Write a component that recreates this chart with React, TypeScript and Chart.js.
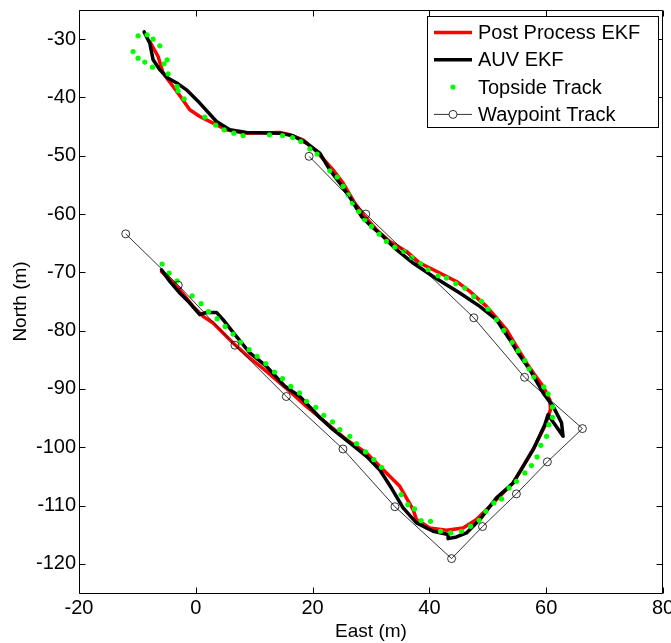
import React, { useEffect, useRef } from "react";
import { Chart, registerables } from "chart.js";

Chart.register(...registerables);

const FONT = "'Liberation Sans', Arial, Helvetica, sans-serif";

// Tick labels
const xTicks = [-20, 0, 20, 40, 60, 80];
const yTicks = [-30, -40, -50, -60, -70, -80, -90, -100, -110, -120];

// Post Process EKF (red)
const postEast = [-7.88, -6.45, -5.6, -3.89, -2.45, -1.03, 0.68, 2.96, 5.25, 8.1, 14.38, 16.1, 18.37, 20.67, 23.51, 25.22, 27.23, 28.94, 30.94, 33.22, 36.08, 38.36, 41.78, 44.64, 46.92, 49.78, 51.49, 53.2, 54.91, 56.63, 57.9, 59.47, 60.62, 60.73, 59.76, 58.05, 56.04, 54.33, 50.91, 48.06, 45.77, 42.92, 40.07, 37.79, 37.21, 34.93, 32.65, 29.23, 25.8, 22.38, 18.95, 16.1, 12.1, 9.25, 6.39, 4.67, 2.96, 1.25, -0.46, -2.74, -4.45, -5.87];
const postNorth = [-30.4, -32.98, -35.83, -38.13, -40.11, -42.12, -43.27, -44.4, -45.55, -46.12, -46.01, -46.41, -47.26, -49.27, -52.42, -54.69, -58.12, -60.41, -62.69, -64.7, -66.41, -68.4, -70.12, -71.56, -73.27, -75.84, -77.83, -79.84, -82.7, -85.55, -87.4, -89.56, -91.84, -93.55, -96.41, -99.84, -103.27, -106.12, -109.55, -112.41, -113.84, -114.25, -113.84, -112.41, -110.69, -106.7, -104.4, -100.98, -98.7, -95.84, -92.99, -90.41, -86.98, -84.69, -82.12, -80.41, -78.69, -77.55, -75.84, -72.98, -71.26, -69.84];

// AUV EKF (black)
const auvEast = [-8.85, -7.88, -7.31, -6.16, -4.74, -3.03, -1.59, 0.68, 3.54, 5.82, 8.68, 14.38, 16.66, 18.95, 21.23, 22.95, 24.66, 26.66, 28.37, 30.09, 32.07, 34.37, 37.21, 40.63, 45.21, 48.63, 51.49, 53.77, 55.3, 57.19, 59.47, 61.18, 62.62, 62.89, 60.32, 59.76, 57.76, 56.04, 54.33, 51.49, 48.63, 46.35, 44.64, 43.2, 43.2, 40.63, 37.79, 35.5, 33.5, 31.51, 29.23, 26.37, 23.51, 21.23, 17.81, 15.2, 12.11, 9.25, 6.39, 4.67, 3.54, 1.83, 0.68, -1.03, -2.74, -4.45, -5.87];
const auvNorth = [-28.75, -30.69, -33.55, -35.26, -36.69, -37.66, -38.69, -40.97, -44.13, -45.55, -46.01, -46.12, -46.58, -47.83, -49.54, -52.42, -54.69, -57.55, -60.41, -62.13, -63.84, -66.12, -68.4, -70.7, -73.55, -75.84, -78.12, -81.55, -84.0, -86.7, -90.69, -92.99, -95.78, -98.13, -94.41, -96.13, -100.41, -103.27, -106.12, -108.69, -112.41, -114.69, -115.38, -115.67, -114.98, -114.41, -112.97, -110.4, -107.0, -103.9, -101.56, -99.26, -96.98, -94.9, -91.27, -89.5, -86.13, -83.83, -80.3, -78.12, -76.87, -76.87, -77.26, -75.26, -73.55, -71.56, -69.55];

// Topside Track (green dots)
const topEast = [-9.88, -8.34, -7.31, -6.16, -10.74, -9.88, -8.73, -7.41, -5.43, -4.91, -4.74, -3.2, -3.03, -2.0, 1.54, 3.42, 4.85, 6.51, 8.1, 12.62, 14.85, 16.56, 17.98, 19.52, 20.77, 22.95, 24.2, 25.22, 26.08, 26.83, 27.91, 28.94, 30.09, 31.39, 32.65, 34.08, 35.62, 36.99, 38.48, 39.78, 41.49, 42.93, 44.52, 46.06, 47.6, 48.92, 50.05, 51.49, 52.74, 54.16, 55.19, 56.34, 57.07, 57.88, 59.59, 60.32, 61.08, 61.08, 60.45, 60.05, 59.08, 58.44, 57.48, 56.34, 54.91, 53.65, 52.35, 51.03, 49.66, 48.51, 47.04, 45.5, 43.66, 41.9, 40.19, 38.58, 37.45, 36.3, 35.15, 31.8, 30.48, 29.06, 27.52, 26.37, 24.66, 23.41, 21.92, 20.55, 18.96, 17.76, 16.27, 14.85, 13.48, 11.99, 10.5, 9.13, 7.65, 6.39, 5.02, 3.65, 2.17, 0.91, -0.63, -3.2, -4.57, -5.77];
const topNorth = [-29.43, -29.26, -30.0, -31.15, -32.13, -33.26, -33.94, -34.8, -34.23, -33.55, -35.95, -38.13, -38.86, -40.23, -43.37, -44.74, -45.55, -46.12, -46.53, -46.41, -46.53, -46.87, -47.56, -48.81, -49.72, -52.58, -53.66, -55.27, -56.69, -58.12, -59.56, -60.98, -62.13, -63.43, -64.7, -65.66, -66.41, -67.44, -68.52, -69.55, -70.58, -70.97, -71.95, -72.69, -74.13, -74.99, -76.29, -78.12, -79.96, -82.01, -83.44, -85.15, -86.57, -87.95, -89.66, -90.86, -93.09, -94.87, -96.13, -98.13, -99.67, -101.66, -103.15, -104.4, -105.84, -106.97, -108.86, -109.55, -110.99, -112.53, -113.56, -114.41, -114.69, -114.41, -112.7, -112.58, -110.58, -109.84, -108.12, -103.44, -102.13, -100.8, -99.38, -98.13, -96.98, -95.66, -94.53, -93.16, -92.13, -90.69, -89.56, -88.24, -87.09, -85.67, -84.41, -83.27, -82.01, -80.58, -79.27, -77.95, -76.75, -75.38, -74.01, -71.44, -70.12, -68.57];

// Waypoint Track
const wpEast = [19.4, 29.1, 47.6, 56.3, 66.2, 60.2, 54.9, 49.1, 43.8, 34.1, 25.2, 15.5, 6.7, -3.0, -12.0];
const wpNorth = [-50.1, -60.0, -77.8, -88.0, -96.8, -102.5, -108.0, -113.6, -119.1, -110.2, -100.3, -91.3, -82.5, -72.2, -63.4];

const pts = (xs: number[], ys: number[]) => xs.map((x, i) => ({ x, y: ys[i] }));

const framePlugin = {
  id: "matlabFrame",
  afterDatasetsDraw(chart: any) {
    const { ctx, chartArea } = chart;
    const { left, right, top, bottom } = chartArea;
    const xs = chart.scales.x;
    const ys = chart.scales.y;
    const L = Math.round(left) + 0.5;
    const R = Math.round(right) - 0.5;
    const T = Math.round(top) + 0.5;
    const B = Math.round(bottom) + 0.5;
    ctx.save();
    ctx.strokeStyle = "#000";
    ctx.lineWidth = 1;
    ctx.beginPath();
    ctx.moveTo(L, T);
    ctx.lineTo(R, T);
    ctx.lineTo(R, B);
    ctx.lineTo(L, B);
    ctx.closePath();
    ctx.stroke();
    const tl = 6;
    ctx.beginPath();
    xTicks.forEach((v) => {
      const p = Math.round(xs.getPixelForValue(v)) + 0.5;
      ctx.moveTo(p, B);
      ctx.lineTo(p, B - tl);
      ctx.moveTo(p, T);
      ctx.lineTo(p, T + tl);
    });
    yTicks.forEach((v) => {
      const p = Math.round(ys.getPixelForValue(v)) + 0.5;
      ctx.moveTo(L, p);
      ctx.lineTo(L + tl, p);
      ctx.moveTo(R, p);
      ctx.lineTo(R - tl, p);
    });
    ctx.stroke();

    // Legend box (MATLAB style)
    const bw = 231;
    const bh = 111;
    const bx = Math.round(right) - 5 - bw;
    const by = Math.round(top) + 6;
    ctx.fillStyle = "#fff";
    ctx.fillRect(bx, by, bw, bh);
    ctx.strokeStyle = "#000";
    ctx.lineWidth = 1;
    ctx.strokeRect(bx + 0.5, by + 0.5, bw, bh);
    ctx.font = `20px ${FONT}`;
    ctx.textBaseline = "middle";
    ctx.textAlign = "left";
    chart.data.datasets.forEach((ds: any, i: number) => {
      const ry = by + 16.5 + i * 27.3;
      const x0 = bx + 7;
      const x1 = bx + 45;
      const xc = (x0 + x1) / 2;
      if (ds.showLine) {
        ctx.strokeStyle = ds.borderColor;
        ctx.lineWidth = ds.borderWidth;
        ctx.beginPath();
        ctx.moveTo(x0, ry);
        ctx.lineTo(x1, ry);
        ctx.stroke();
      }
      if (ds.pointRadius > 0) {
        ctx.beginPath();
        ctx.arc(xc, ry, ds.pointRadius, 0, Math.PI * 2);
        if (ds.showLine) {
          ctx.fillStyle = "#fff";
          ctx.fill();
          ctx.strokeStyle = ds.pointBorderColor;
          ctx.lineWidth = ds.pointBorderWidth;
          ctx.stroke();
        } else {
          ctx.fillStyle = ds.pointBackgroundColor;
          ctx.fill();
        }
      }
      ctx.fillStyle = "#000";
      ctx.fillText(ds.label, bx + 51, ry + 1);
    });
    ctx.restore();
  },
};

export default function App() {
  const ref = useRef<HTMLCanvasElement | null>(null);
  useEffect(() => {
    if (!ref.current) return;
    const chart = new Chart(ref.current, {
      type: "scatter",
      data: {
        datasets: [
          {
            label: "Post Process EKF",
            data: pts(postEast, postNorth),
            showLine: true,
            borderColor: "#ff0000",
            backgroundColor: "#ff0000",
            borderWidth: 3.5,
            pointRadius: 0,
            borderJoinStyle: "round",
            borderCapStyle: "round",
            order: 3,
          },
          {
            label: "AUV EKF",
            data: pts(auvEast, auvNorth),
            showLine: true,
            borderColor: "#000000",
            backgroundColor: "#000000",
            borderWidth: 3.5,
            pointRadius: 0,
            borderJoinStyle: "round",
            borderCapStyle: "round",
            order: 2,
          },
          {
            label: "Topside Track",
            data: pts(topEast, topNorth),
            showLine: false,
            pointRadius: 2.6,
            pointBackgroundColor: "#00ff00",
            pointBorderColor: "#00ff00",
            pointBorderWidth: 0,
            order: 1,
          },
          {
            label: "Waypoint Track",
            data: pts(wpEast, wpNorth),
            showLine: true,
            borderColor: "#000000",
            borderWidth: 0.8,
            pointRadius: 4,
            pointStyle: "circle",
            pointBackgroundColor: "rgba(0,0,0,0)",
            pointBorderColor: "#000000",
            pointBorderWidth: 0.8,
            order: 0,
          },
        ] as any,
      },
      options: {
        responsive: false,
        animation: false,
        events: [],
        layout: { padding: { left: 0, top: 10, right: 8, bottom: 0 } },
        plugins: { legend: { display: false }, tooltip: { enabled: false } },
        scales: {
          x: {
            type: "linear",
            position: "bottom",
            min: -20,
            max: 80,
            afterBuildTicks: (s: any) => {
              s.ticks = xTicks.map((v) => ({ value: v }));
            },
            afterFit: (s: any) => {
              s.height = 50;
              s.paddingLeft = 0;
              s.paddingRight = 0;
            },
            ticks: { font: { family: FONT, size: 20 }, color: "#000", padding: 3, maxRotation: 0, autoSkip: false },
            grid: { display: false, drawTicks: false },
            border: { display: false },
            title: { display: true, text: "East (m)", font: { family: FONT, size: 19 }, color: "#000", padding: { top: 0, bottom: 0 } },
          },
          y: {
            type: "linear",
            position: "left",
            min: -125,
            max: -25,
            afterBuildTicks: (s: any) => {
              s.ticks = yTicks.map((v) => ({ value: v }));
            },
            afterFit: (s: any) => {
              s.width = 79;
              s.paddingTop = 0;
              s.paddingBottom = 0;
            },
            ticks: { font: { family: FONT, size: 20 }, color: "#000", padding: 3, autoSkip: false },
            grid: { display: false, drawTicks: false },
            border: { display: false },
            title: { display: true, text: "North (m)", font: { family: FONT, size: 19 }, color: "#000", padding: { top: 9, bottom: 0 } },
          },
        },
      } as any,
      plugins: [framePlugin],
    });
    return () => chart.destroy();
  }, []);
  return (
    <div style={{ position: "fixed", left: 0, top: 0, width: 671, height: 643, background: "#fff" }}>
      <canvas ref={ref} width={671} height={643} style={{ display: "block" }} />
    </div>
  );
}
